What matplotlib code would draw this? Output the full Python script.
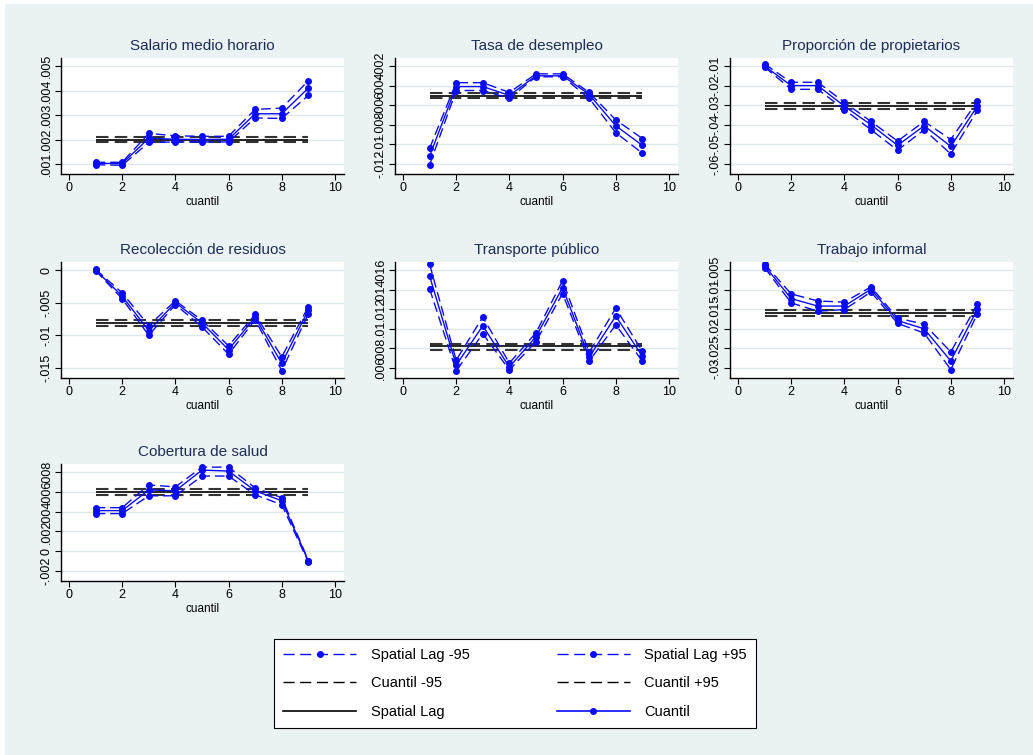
import matplotlib
matplotlib.use('Agg')
import matplotlib.pyplot as plt
from matplotlib.lines import Line2D
from matplotlib.patches import Rectangle

plt.rcParams['font.family'] = ['Liberation Sans Narrow', 'Liberation Sans', 'DejaVu Sans']

# datos
cuantil = [1, 2, 3, 4, 5, 6, 7, 8, 9]

titulos = ['Salario medio horario', 'Tasa de desempleo', 'Proporción de propietarios',
           'Recolección de residuos', 'Transporte público', 'Trabajo informal',
           'Cobertura de salud']

# Cuantil (linea azul central)
salario = [0.00103, 0.00102, 0.00205, 0.00201, 0.00200, 0.00201, 0.00305, 0.00305, 0.00410]
desempleo = [-0.0112, -0.0041, -0.0041, -0.0050, -0.0030, -0.0030, -0.0049, -0.0081, -0.0101]
propietarios = [-0.0100, -0.0200, -0.0200, -0.0305, -0.0400, -0.0505, -0.0405, -0.0510, -0.0305]
residuos = [0.0000, -0.0040, -0.0093, -0.0050, -0.0081, -0.0122, -0.0072, -0.0143, -0.0061]
transporte = [0.0154, 0.0063, 0.0103, 0.0061, 0.0092, 0.0142, 0.0071, 0.0113, 0.0072]
informal = [-0.0039, -0.0123, -0.0142, -0.0142, -0.0099, -0.0179, -0.0200, -0.0282, -0.0150]
salud = [0.0041, 0.0041, 0.0062, 0.0061, 0.0082, 0.0081, 0.0061, 0.0051, -0.0010]

# Spatial Lag +95 / -95 (azul discontinua)
salario_hi = [0.00107, 0.00107, 0.00225, 0.00215, 0.00213, 0.00213, 0.00323, 0.00328, 0.00440]
salario_lo = [0.00097, 0.00095, 0.00188, 0.00190, 0.00190, 0.00190, 0.00288, 0.00286, 0.00380]
desempleo_hi = [-0.0104, -0.0037, -0.0037, -0.0047, -0.0028, -0.0028, -0.0047, -0.0075, -0.0094]
desempleo_lo = [-0.0121, -0.0045, -0.0045, -0.0053, -0.0031, -0.0031, -0.0053, -0.0088, -0.0109]
propietarios_hi = [-0.0090, -0.0183, -0.0183, -0.0285, -0.0383, -0.0483, -0.0383, -0.0475, -0.0280]
propietarios_lo = [-0.0105, -0.0219, -0.0219, -0.0322, -0.0425, -0.0530, -0.0425, -0.0549, -0.0327]
residuos_hi = [0.0001, -0.0035, -0.0085, -0.0047, -0.0077, -0.0116, -0.0068, -0.0133, -0.0056]
residuos_lo = [-0.0001, -0.0044, -0.0100, -0.0053, -0.0087, -0.0129, -0.0076, -0.0154, -0.0067]
transporte_hi = [0.0166, 0.0068, 0.0112, 0.0065, 0.0096, 0.0149, 0.0076, 0.0121, 0.0077]
transporte_lo = [0.0141, 0.0057, 0.0095, 0.0058, 0.0087, 0.0136, 0.0067, 0.0104, 0.0067]
informal_hi = [-0.0035, -0.0111, -0.0129, -0.0132, -0.0093, -0.0173, -0.0188, -0.0259, -0.0137]
informal_lo = [-0.0044, -0.0134, -0.0155, -0.0151, -0.0106, -0.0186, -0.0211, -0.0304, -0.0162]
salud_hi = [0.0044, 0.0044, 0.0067, 0.0065, 0.0085, 0.0085, 0.0064, 0.0054, -0.00095]
salud_lo = [0.0038, 0.0038, 0.0056, 0.0056, 0.0076, 0.0076, 0.0057, 0.0047, -0.0011]

# Spatial Lag (negra) y Cuantil +95 / -95 (negra discontinua)
lag = [0.00200, -0.0051, -0.0303, -0.0081, 0.0082, -0.0160, 0.0060]
lag_hi = [0.00212, -0.0048, -0.0290, -0.0077, 0.0085, -0.0153, 0.0063]
lag_lo = [0.00189, -0.0053, -0.0317, -0.0085, 0.0078, -0.0168, 0.0057]

centro = [salario, desempleo, propietarios, residuos, transporte, informal, salud]
altos = [salario_hi, desempleo_hi, propietarios_hi, residuos_hi, transporte_hi, informal_hi, salud_hi]
bajos = [salario_lo, desempleo_lo, propietarios_lo, residuos_lo, transporte_lo, informal_lo, salud_lo]

yticks = [
    [0.001, 0.002, 0.003, 0.004, 0.005],
    [-0.012, -0.01, -0.008, -0.006, -0.004, -0.002],
    [-0.06, -0.05, -0.04, -0.03, -0.02, -0.01],
    [-0.015, -0.01, -0.005, 0],
    [0.006, 0.008, 0.01, 0.012, 0.014, 0.016],
    [-0.03, -0.025, -0.02, -0.015, -0.01, -0.005],
    [-0.002, 0, 0.002, 0.004, 0.006, 0.008],
]
ylabels = [
    ['.001', '.002', '.003', '.004', '.005'],
    ['-.012', '-.01', '-.008', '-.006', '-.004', '-.002'],
    ['-.06', '-.05', '-.04', '-.03', '-.02', '-.01'],
    ['-.015', '-.01', '-.005', '0'],
    ['.006', '.008', '.01', '.012', '.014', '.016'],
    ['-.03', '-.025', '-.02', '-.015', '-.01', '-.005'],
    ['-.002', '0', '.002', '.004', '.006', '.008'],
]

W, H = 1033, 755
fondo = '#eaf2f3'
azul = '#0a0aff'
titulo_col = '#1e2d53'

fig = plt.figure(figsize=(W / 100, H / 100), dpi=100)
fig.patch.set_facecolor('white')
fig.patches.append(Rectangle((5 / W, 0), 1 - 5 / W, 1 - 4 / H, transform=fig.transFigure,
                             facecolor=fondo, edgecolor='none', zorder=-10))

cols = [61, 395, 730]
rows = [(58, 174), (262, 378), (464, 581)]

for i in range(7):
    r, c = divmod(i, 3)
    x0 = cols[c]
    top, bot = rows[r]
    ax = fig.add_axes([x0 / W, 1 - bot / H, 283 / W, (bot - top) / H])
    ax.set_facecolor('white')

    lo_t, hi_t = yticks[i][0], yticks[i][-1]
    span = hi_t - lo_t
    ax.set_ylim(lo_t - span * 10 / 98, hi_t + span * 8 / 98)
    ax.set_xlim(-0.30, 10.34)

    ax.set_yticks(yticks[i])
    ax.set_yticklabels(ylabels[i], rotation=90, va='center', fontsize=9)
    ax.set_xticks([0, 2, 4, 6, 8, 10])
    ax.set_xticklabels(['0', '2', '4', '6', '8', '10'], fontsize=9)
    ax.tick_params(length=4, width=0.8, color='black', pad=2)
    ax.grid(axis='y', color='#dde7ec', linewidth=1)
    ax.set_axisbelow(True)
    for s in ['top', 'right']:
        ax.spines[s].set_visible(False)
    for s in ['left', 'bottom']:
        ax.spines[s].set_linewidth(1)

    # lineas horizontales
    ax.hlines(lag_hi[i], cuantil[0], cuantil[-1], color='#333333', linewidth=1.5,
              linestyles=(0, (6, 3)))
    ax.hlines(lag_lo[i], cuantil[0], cuantil[-1], color='#333333', linewidth=1.5,
              linestyles=(0, (6, 3)))
    ax.hlines(lag[i], cuantil[0], cuantil[-1], color='black', linewidth=1.2)

    # cuantil y bandas
    ax.plot(cuantil, altos[i], color=azul, linewidth=1, dashes=(7, 3.5),
            marker='o', markersize=4)
    ax.plot(cuantil, bajos[i], color=azul, linewidth=1, dashes=(7, 3.5),
            marker='o', markersize=4)
    ax.plot(cuantil, centro[i], color=azul, linewidth=1, marker='o', markersize=4)

    ax.set_title(titulos[i], fontsize=11, color=titulo_col, pad=6)
    ax.set_xlabel('cuantil', fontsize=8.5, labelpad=1)

handles = [
    Line2D([], [], color=azul, linewidth=1, dashes=(8, 4), marker='o', markersize=4,
           markevery=[1], label='Spatial Lag -95'),
    Line2D([], [], color='black', linewidth=1, dashes=(8, 4), label='Cuantil -95'),
    Line2D([], [], color='black', linewidth=1.2, label='Spatial Lag'),
    Line2D([], [], color=azul, linewidth=1, dashes=(8, 4), marker='o', markersize=4,
           markevery=[1], label='Spatial Lag +95'),
    Line2D([], [], color='black', linewidth=1, dashes=(8, 4), label='Cuantil +95'),
    Line2D([], [], color=azul, linewidth=1.2, marker='o', markersize=4,
           markevery=[1], label='Cuantil'),
]
leg = fig.legend(handles=handles, ncol=2, loc='lower left',
                 bbox_to_anchor=(267 / W, 1 - 735 / H, 496 / W, 96 / H), mode='expand',
                 fontsize=10.5, handlelength=5, handletextpad=1, labelspacing=1.0,
                 columnspacing=4.8, borderpad=0.6, fancybox=False, framealpha=1,
                 edgecolor='black', facecolor='white')
leg.get_frame().set_linewidth(0.8)

fig.savefig('out.png', dpi=100, facecolor=fig.get_facecolor())
